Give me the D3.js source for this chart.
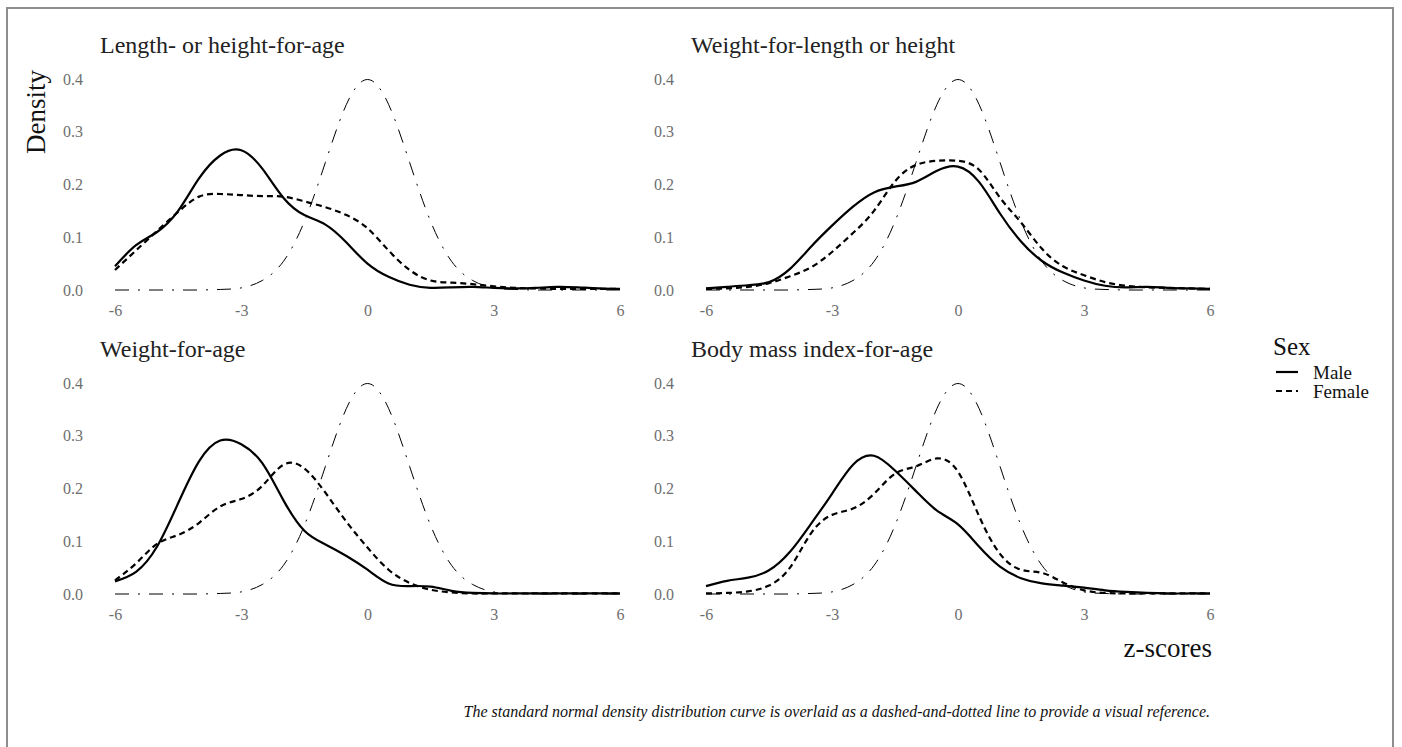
<html>

<head>
    <meta charset="utf-8" />
    <title>z-score densities</title>
    <script src="https://d3js.org/d3.v7.min.js"></script>
    <style>
        body {
            margin: 0;
            background: #fff;
            font-family: "Liberation Serif", "DejaVu Serif", serif;
        }

        .tick-label {
            fill: #6e6e6e;
            font-size: 16px;
        }

        .panel-title {
            fill: #222;
            font-size: 24px;
        }
    </style>
</head>

<body>
    <svg id="chart" width="1402" height="747"></svg>
    <script>
        // z-score grid shared by every curve
        const zScores = [-6, -5.5, -5, -4.5, -4, -3.5, -3, -2.5, -2, -1.5, -1, -0.5, 0,
            0.5, 1, 1.5, 2, 2.5, 3, 3.5, 4, 4.5, 5, 5.5, 6]

        const panelTitles = ["Length- or height-for-age", "Weight-for-length or height",
            "Weight-for-age", "Body mass index-for-age"]

        const xTicks = [-6, -3, 0, 3, 6]
        const yTicks = [0.0, 0.1, 0.2, 0.3, 0.4]

        const sexLabels = ["Male", "Female"]

        // densities
        const lhaMale = [0.045, 0.085, 0.110, 0.150, 0.212, 0.255, 0.265, 0.230, 0.175, 0.142, 0.124, 0.090, 0.050,
            0.025, 0.010, 0.004, 0.005, 0.006, 0.004, 0.003, 0.004, 0.006, 0.005, 0.003, 0.002]
        const lhaFemale = [0.038, 0.075, 0.112, 0.148, 0.177, 0.182, 0.180, 0.178, 0.177, 0.168, 0.157, 0.142, 0.117,
            0.075, 0.038, 0.018, 0.014, 0.011, 0.007, 0.004, 0.003, 0.002, 0.002, 0.002, 0.002]

        const wflMale = [0.003, 0.006, 0.009, 0.015, 0.040, 0.082, 0.122, 0.158, 0.185, 0.196, 0.205, 0.226, 0.234,
            0.205, 0.145, 0.092, 0.055, 0.033, 0.018, 0.008, 0.005, 0.006, 0.004, 0.003, 0.002]
        const wflFemale = [0.002, 0.003, 0.006, 0.013, 0.026, 0.043, 0.072, 0.108, 0.150, 0.206, 0.237, 0.245, 0.245,
            0.228, 0.175, 0.128, 0.078, 0.045, 0.028, 0.015, 0.008, 0.005, 0.004, 0.003, 0.002]

        const wfaMale = [0.024, 0.042, 0.090, 0.172, 0.252, 0.291, 0.284, 0.248, 0.178, 0.120, 0.094, 0.072, 0.046,
            0.020, 0.015, 0.014, 0.006, 0.002, 0.001, 0.001, 0.001, 0.001, 0.001, 0.001, 0.001]
        const wfaFemale = [0.026, 0.058, 0.095, 0.112, 0.135, 0.166, 0.180, 0.205, 0.245, 0.238, 0.192, 0.137, 0.088,
            0.046, 0.021, 0.008, 0.003, 0.001, 0.001, 0.001, 0.001, 0.001, 0.001, 0.001, 0.001]

        const bmiMale = [0.015, 0.025, 0.031, 0.045, 0.080, 0.133, 0.190, 0.245, 0.262, 0.234, 0.195, 0.158, 0.132,
            0.090, 0.052, 0.030, 0.020, 0.016, 0.012, 0.007, 0.004, 0.002, 0.001, 0.001, 0.001]
        const bmiFemale = [0.001, 0.002, 0.005, 0.016, 0.050, 0.115, 0.150, 0.162, 0.190, 0.228, 0.242, 0.257, 0.232,
            0.148, 0.076, 0.046, 0.040, 0.022, 0.007, 0.002, 0.001, 0.001, 0.001, 0.001, 0.001]

        // standard normal reference, as drawn (dash-dot)
        const normalRef = [0, 0, 0, 0, 0, 0.001, 0.004, 0.018, 0.054, 0.130, 0.242, 0.352, 0.399,
            0.352, 0.242, 0.130, 0.054, 0.018, 0.004, 0.001, 0, 0, 0, 0, 0]

        const caption = "The standard normal density distribution curve is overlaid as a dashed-and-dotted line to provide a visual reference."

        const svg = d3.select("svg#chart")

        // frame
        svg.append("rect")
            .attr("x", 7).attr("y", 8)
            .attr("width", 1386).attr("height", 760)
            .attr("fill", "none")
            .attr("stroke", "#8e8e8e")
            .attr("stroke-width", 2)

        const panels = [
            { title: panelTitles[0], male: lhaMale, female: lhaFemale, x0: 115, x1: 620, top: 79, bottom: 290 },
            { title: panelTitles[1], male: wflMale, female: wflFemale, x0: 706, x1: 1210, top: 79, bottom: 290 },
            { title: panelTitles[2], male: wfaMale, female: wfaFemale, x0: 115, x1: 620, top: 383, bottom: 594 },
            { title: panelTitles[3], male: bmiMale, female: bmiFemale, x0: 706, x1: 1210, top: 383, bottom: 594 }
        ]

        const lineStyles = {
            male: { dash: null, width: 2.2 },
            female: { dash: "6,4", width: 2.2 },
            normal: { dash: "14,9,2,9", width: 1 }
        }

        panels.forEach(p => {
            const x = d3.scaleLinear().domain([-6, 6]).range([p.x0, p.x1])
            const y = d3.scaleLinear().domain([0, 0.4]).range([p.bottom, p.top])
            const g = svg.append("g").attr("class", "panel")

            g.append("text").attr("class", "panel-title")
                .attr("x", p.x0 - 15)
                .attr("y", p.top - 26)
                .text(p.title)

            const xAxis = d3.axisBottom(x).tickValues(xTicks).tickSize(0).tickPadding(15)
                .tickFormat(d => String(d))
            g.append("g").attr("transform", `translate(0, ${p.bottom})`).call(xAxis)
                .call(a => a.select(".domain").remove())
                .selectAll("text").attr("class", "tick-label").attr("fill", null)
                .style("font-family", "Liberation Serif")

            const yAxis = d3.axisLeft(y).tickValues(yTicks).tickSize(0).tickPadding(32)
                .tickFormat(d3.format(".1f"))
            g.append("g").attr("transform", `translate(${p.x0}, 0)`).call(yAxis)
                .call(a => a.select(".domain").remove())
                .selectAll("text").attr("class", "tick-label").attr("fill", null)
                .style("font-family", "Liberation Serif")

            const line = d3.line()
                .x((d, i) => x(zScores[i]))
                .y(d => y(d))
                .curve(d3.curveNatural)

            const series = [
                ["normal", normalRef],
                ["female", p.female],
                ["male", p.male]
            ]
            g.selectAll("path.density").data(series)
                .join("path").attr("class", d => `density ${d[0]}`)
                .attr("d", d => line(d[1]))
                .attr("fill", "none")
                .attr("stroke", "#000")
                .attr("stroke-width", d => lineStyles[d[0]].width)
                .attr("stroke-dasharray", d => lineStyles[d[0]].dash)
                .attr("stroke-linejoin", "round")
        })

        // axis titles
        svg.append("text")
            .attr("transform", "translate(45, 112) rotate(-90)")
            .attr("text-anchor", "middle")
            .attr("font-size", 27)
            .attr("fill", "#111")
            .text("Density")

        svg.append("text")
            .attr("x", 1212).attr("y", 657)
            .attr("text-anchor", "end")
            .attr("font-size", 27)
            .attr("fill", "#111")
            .text("z-scores")

        svg.append("text")
            .attr("x", 1210).attr("y", 717)
            .attr("text-anchor", "end")
            .attr("font-size", 16)
            .attr("font-style", "italic")
            .attr("fill", "#111")
            .text(caption)

        // legend
        const legend = svg.append("g").attr("transform", "translate(1273, 0)")
        legend.append("text")
            .attr("x", 0).attr("y", 355)
            .attr("font-size", 25)
            .attr("fill", "#111")
            .text("Sex")

        const legendItem = legend.selectAll("g.legend-item").data(sexLabels)
            .join("g").attr("class", "legend-item")
            .attr("transform", (d, i) => `translate(0, ${372 + i * 19})`)
        legendItem.append("line")
            .attr("x1", 3).attr("x2", 25).attr("y1", 0).attr("y2", 0)
            .attr("stroke", "#000")
            .attr("stroke-width", 2.2)
            .attr("stroke-dasharray", d => d == "Female" ? "6,4" : null)
        legendItem.append("text")
            .attr("x", 40).attr("y", 0)
            .attr("dominant-baseline", "central")
            .attr("font-size", 19)
            .attr("fill", "#111")
            .text(d => d)
    </script>
</body>

</html>
